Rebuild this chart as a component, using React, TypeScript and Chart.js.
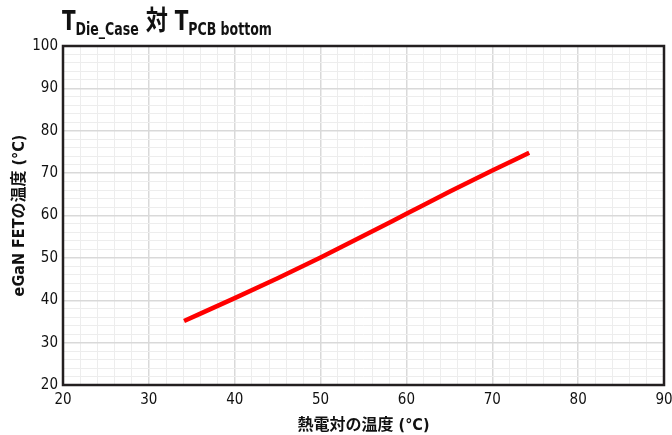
import React, { useEffect, useRef } from "react";
import { Chart, registerables } from "chart.js";

Chart.register(...registerables);

const xValues = [34.1, 40, 45, 50, 55, 60, 65, 70, 74.3];
const yValues = [35.1, 40.5, 45.2, 50.1, 55.2, 60.4, 65.6, 70.6, 74.8];
const xRange = [20, 90];
const yRange = [20, 100];
const titleParts = [
  { text: "T", sub: false },
  { text: "Die_Case", sub: true },
  { text: " 対 ", sub: false },
  { text: "T", sub: false },
  { text: "PCB bottom", sub: true },
];
const xTitle = "熱電対の温度 (°C)";
const yTitle = "eGaN FETの温度 (°C)";

const FONT = "'Liberation Sans Narrow', 'DejaVu Sans Condensed', 'Noto Sans CJK JP', sans-serif";

const framePlugin = {
  id: "frame",
  afterDatasetsDraw(chart: any) {
    const { ctx, chartArea } = chart;
    ctx.save();
    ctx.strokeStyle = "#231f20";
    ctx.lineWidth = 2.5;
    ctx.strokeRect(chartArea.left, chartArea.top, chartArea.right - chartArea.left, chartArea.bottom - chartArea.top);
    ctx.restore();
  },
  afterDraw(chart: any) {
    const { ctx } = chart;
    ctx.save();
    ctx.fillStyle = "#111";
    ctx.textBaseline = "alphabetic";
    ctx.translate(62, 0);
    ctx.scale(0.82, 1);
    let x = 0;
    for (const p of titleParts) {
      if (p.sub) {
        ctx.font = `bold 17px ${FONT}`;
        ctx.fillText(p.text, x, 35);
      } else {
        ctx.font = `bold 27px ${FONT}`;
        ctx.fillText(p.text, x, 30);
      }
      x += ctx.measureText(p.text).width;
    }
    ctx.restore();
  },
};

export default function App() {
  const ref = useRef<HTMLCanvasElement>(null);
  useEffect(() => {
    document.body.style.margin = "0";
    const data = xValues.map((x, i) => ({ x, y: yValues[i] }));
    const gridColor = (ctx: any) => (ctx.tick && Math.round(ctx.tick.value) % 10 === 0 ? "#d9d9d9" : "#ededed");
    const gridWidth = (ctx: any) => (ctx.tick && Math.round(ctx.tick.value) % 10 === 0 ? 1.5 : 1);
    const chart = new Chart(ref.current!, {
      type: "line",
      data: {
        datasets: [
          {
            data,
            borderColor: "#ff0000",
            borderWidth: 4.5,
            pointRadius: 0,
            fill: false,
            cubicInterpolationMode: "monotone",
          },
        ],
      },
      options: {
        animation: false,
        responsive: false,
        layout: { padding: { top: 46, right: 8, left: 0, bottom: 0 } },
        plugins: { legend: { display: false }, tooltip: { enabled: false }, title: { display: false } },
        scales: {
          x: {
            type: "linear",
            min: xRange[0],
            max: xRange[1],
            border: { display: false },
            grid: { color: gridColor, lineWidth: gridWidth, drawTicks: false },
            ticks: {
              stepSize: 2,
              autoSkip: false,
              maxRotation: 0,
              padding: 6,
              color: "#111",
              font: { family: FONT, size: 15 },
              callback: (v: any) => (Math.round(v) % 10 === 0 ? String(v) : ""),
            },
            title: { display: true, text: xTitle, color: "#111", font: { family: FONT, size: 16, weight: "bold" }, padding: { top: 3, bottom: 0 } },
            afterFit: (s: any) => { s.height = 50; s.paddingLeft = 0; s.paddingRight = 0; },
          },
          y: {
            type: "linear",
            min: yRange[0],
            max: yRange[1],
            border: { display: false },
            grid: { color: gridColor, lineWidth: gridWidth, drawTicks: false },
            ticks: {
              stepSize: 2,
              autoSkip: false,
              padding: 5,
              color: "#111",
              font: { family: FONT, size: 15 },
              callback: (v: any) => (Math.round(v) % 10 === 0 ? String(v) : ""),
            },
            title: { display: true, text: yTitle, color: "#111", font: { family: FONT, size: 16, weight: "bold" }, padding: { top: 10, bottom: 0 } },
            afterFit: (s: any) => { s.width = 63; s.paddingTop = 0; s.paddingBottom = 0; },
          },
        },
      },
      plugins: [framePlugin],
    });
    return () => chart.destroy();
  }, []);
  return (
    <div style={{ width: 672, height: 435 }}>
      <canvas ref={ref} width={672} height={435} />
    </div>
  );
}
